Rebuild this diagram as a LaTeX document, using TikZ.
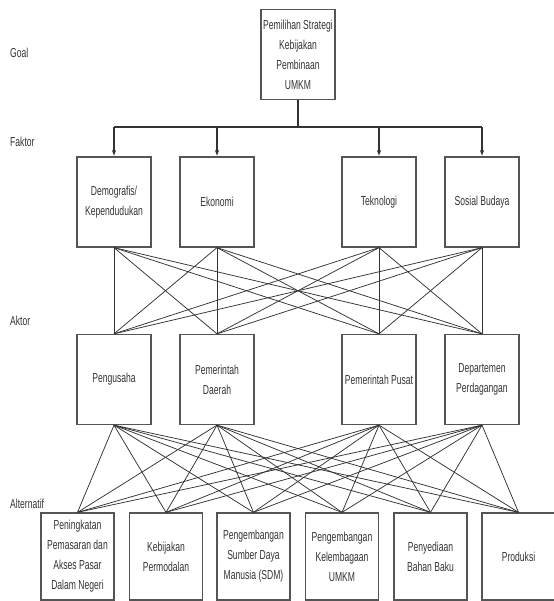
\documentclass[tikz,border=0pt]{standalone}
\usepackage{fontspec}
\setmainfont{Liberation Sans}[FakeStretch=0.66]
\usetikzlibrary{arrows.meta}
\definecolor{ink}{HTML}{333333}
\definecolor{boxline}{HTML}{555555}
\tikzset{
  x=1pt, y=-1pt,
  box/.style={draw=boxline, line width=1.3pt, minimum width=74pt, minimum height=90pt,
    inner sep=1pt, align=center, font=\fontsize{13}{20}\selectfont, text=ink},
  altbox/.style={box, minimum width=73pt, minimum height=87pt},
  lvl/.style={anchor=west, font=\fontsize{13}{20}\selectfont, text=ink, inner sep=0pt},
  conn/.style={draw=ink, line width=0.75pt},
  arr/.style={draw=ink, line width=1.2pt, -{Latex[length=6pt,width=4.5pt]}},
}
\begin{document}
\begin{tikzpicture}
\useasboundingbox (0,0) rectangle (553,601);
% level labels
\node[lvl] (lg) at (10,53) {Goal};
\node[lvl] (lf) at (10,142) {Faktor};
\node[lvl] (la) at (10,321) {Aktor};
\node[lvl] (lt) at (10,504) {Alternatif};
% goal
\node[box] (g) at (298,54.5) {Pemilihan Strategi\\Kebijakan\\Pembinaan\\UMKM};
% faktor
\node[box] (f1) at (114,202) {Demografis/\\Kependudukan};
\node[box] (f2) at (217,202) {Ekonomi};
\node[box] (f3) at (379,202) {Teknologi};
\node[box] (f4) at (482,202) {Sosial Budaya};
% aktor
\node[box] (a1) at (114,379.5) {Pengusaha};
\node[box] (a2) at (217,379.5) {Pemerintah\\Daerah};
\node[box] (a3) at (379,379.5) {Pemerintah Pusat};
\node[box] (a4) at (482,379.5) {Departemen\\Perdagangan};
% alternatif
\node[altbox] (t1) at (77.5,556.5) {Peningkatan\\Pemasaran dan\\Akses Pasar\\Dalam Negeri};
\node[altbox] (t2) at (166,556.5) {Kebijakan\\Permodalan};
\node[altbox] (t3) at (253.5,556.5) {Pengembangan\\Sumber Daya\\Manusia (SDM)};
\node[altbox] (t4) at (342,556.5) {Pengembangan\\Kelembagaan\\UMKM};
\node[altbox] (t5) at (430.5,556.5) {Penyediaan\\Bahan Baku};
\node[altbox] (t6) at (518.5,556.5) {Produksi};
% goal to faktor
\coordinate (bar) at (298,127);
\draw[draw=ink, line width=1.2pt] (g.south) -- (bar);
\draw[draw=ink, line width=1.2pt] (bar -| f1) -- (bar -| f4);
\foreach \f in {f1,f2,f3,f4} \draw[arr] (bar -| \f) -- (\f.north);
% faktor to aktor
\foreach \f in {f1,f2,f3,f4} \foreach \a in {a1,a2,a3,a4} \draw[conn] (\f.south) -- (\a.north);
% aktor to alternatif
\foreach \a in {a1,a2,a3,a4} \foreach \t in {t1,t2,t3,t4,t5,t6} \draw[conn] (\a.south) -- (\t.north);
\end{tikzpicture}
\end{document}
